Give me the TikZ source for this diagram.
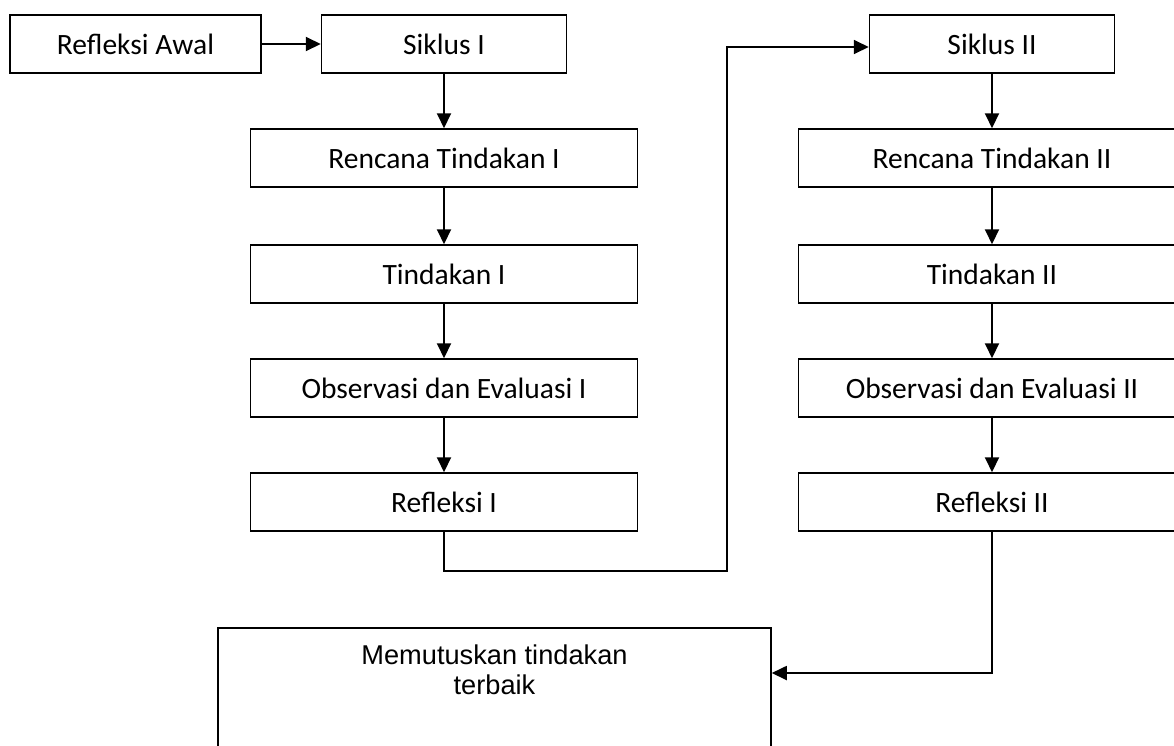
\documentclass[tikz,border=0pt]{standalone}
\usepackage{fontspec}
\setmainfont{Carlito}
\newfontfamily\arialfont{Liberation Sans}
\usetikzlibrary{arrows.meta}
\begin{document}
\begin{tikzpicture}[x=1pt,y=-1pt,
  box/.style={draw, line width=1.5pt, minimum height=58pt, inner sep=0pt, font=\fontsize{29.5}{35}\selectfont},
  widebox/.style={box, minimum width=387pt},
  smallbox/.style={box, minimum width=245pt},
  arr/.style={line width=2pt, -{Triangle[length=15pt,width=14pt]}},
  conn/.style={line width=1.8pt}]
\useasboundingbox (0,0) rectangle (1174,745);
\clip (0,0) rectangle (1174,745);
\fill[white] (0,0) rectangle (1174,745);
% left column
\node[box, minimum width=251pt] (ra) at (135.5,44) {Refleksi Awal};
\node[smallbox] (sik1) at (444,44) {Siklus I};
\node[widebox] (ren1) at (444,158) {Rencana Tindakan I};
\node[widebox] (tin1) at (444,274) {Tindakan I};
\node[widebox] (obs1) at (444,388) {Observasi dan Evaluasi I};
\node[widebox] (ref1) at (444,502) {Refleksi I};
% right column
\node[smallbox] (sik2) at (992,44) {Siklus II};
\node[widebox] (ren2) at (992,158) {Rencana Tindakan II};
\node[widebox] (tin2) at (992,274) {Tindakan II};
\node[widebox] (obs2) at (992,388) {Observasi dan Evaluasi II};
\node[widebox] (ref2) at (992,502) {Refleksi II};
% final box
\node[draw, line width=1.5pt, minimum width=553pt, minimum height=160pt, anchor=north, inner sep=0pt] (mem) at (494.5,627) {};
\node[font=\arialfont\fontsize{27.2}{30.5}\selectfont, align=center] (memtxt) at (494.5,670) {Memutuskan tindakan\\terbaik};
% connectors
\draw[arr] (ra) -- (sik1);
\draw[arr] (sik1) -- (ren1);
\draw[arr] (ren1) -- (tin1);
\draw[arr] (tin1) -- (obs1);
\draw[arr] (obs1) -- (ref1);
\draw[arr] (sik2) -- (ren2);
\draw[arr] (ren2) -- (tin2);
\draw[arr] (tin2) -- (obs2);
\draw[arr] (obs2) -- (ref2);
\coordinate (c1) at (727,571);
\draw[conn, -{Triangle[length=15pt,width=14pt]}] (ref1.south) |- (c1) |- ([yshift=-3pt]sik2.west);
\draw[conn, -{Triangle[length=15pt,width=14pt]}] (ref2.south) |- ([yshift=-46pt]mem.north east);
\end{tikzpicture}
\end{document}
